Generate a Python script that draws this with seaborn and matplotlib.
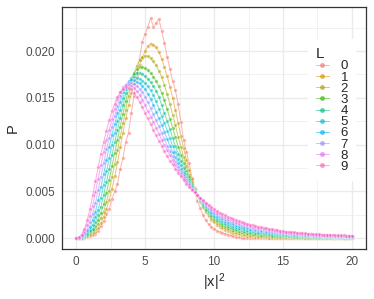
import numpy as np
import pandas as pd
import seaborn as sns
import matplotlib
matplotlib.use("Agg")
import matplotlib.pyplot as plt
from matplotlib.lines import Line2D
from matplotlib.ticker import FormatStrFormatter, MultipleLocator

# ==========================
# DATA (P in units of 1e-4, x = |x|^2 grid, step 0.2)
# ==========================

x_grid = np.round(np.arange(0, 20.001, 0.2), 1)

L0 = [0, 0, 0, 0, 1, 2, 3, 5, 8, 13,
      18, 26, 31, 42, 50, 58, 74, 86, 103, 113,
      134, 152, 172, 192, 210, 218, 226, 235, 226, 230,
      234, 222, 209, 194, 181, 168, 158, 143, 124, 105,
      92, 80, 64, 51, 40, 32, 25, 19, 15, 12,
      10, 8, 7, 6, 5, 4, 3, 2, 1, 1,
      0, 0, 0, 0, 0, 0, 0, 0, 0, 0,
      0, 0, 0, 0, 0, 0, 0, 0, 0, 0,
      0, 0, 0, 0, 0, 0, 0, 0, 0, 0,
      0, 0, 0, 0, 0, 0, 0, 0, 0, 0,
      0]
L1 = [0, 0, 0.5, 1, 2, 3, 5, 7, 11, 16,
      23, 31, 41, 53, 66, 81, 97, 113, 128, 142,
      155, 166, 176, 185, 193, 200, 205, 208, 207, 204,
      199, 192, 183, 173, 162, 150, 137, 123, 109, 96,
      84, 73, 63, 54, 46, 39, 33, 28, 23.5, 20,
      17, 14.5, 12.3, 10.5, 9, 7.7, 6.6, 5.6, 4.8, 4.1,
      3.5, 3.0, 2.6, 2.2, 1.9, 1.6, 1.4, 1.2, 1.0, 0.9,
      0.8, 0.7, 0.6, 0.5, 0.45, 0.4, 0.35, 0.3, 0.3, 0.25,
      0.2, 0.2, 0.2, 0.15, 0.15, 0.1, 0.1, 0.1, 0.1, 0.1,
      0.1, 0.1, 0.1, 0.1, 0.1, 0.1, 0.1, 0.1, 0.1, 0.1,
      0.1]
L2 = [0, 0, 0.3, 1.1, 2.7, 4.8, 7.2, 9.6, 15.5, 22,
      28.4, 38.8, 50.7, 65.2, 79.7, 94.2, 108.6, 122.9, 137.1, 152.2,
      165.2, 176, 184.3, 190.2, 193.8, 195, 194.4, 192.4, 189.3, 184.8,
      179.1, 172, 163.8, 154.2, 143.2, 131.9, 120.6, 108.5, 97, 87.2,
      77.4, 68.1, 60.6, 53, 46, 39.5, 33.9, 29.3, 25, 21.6,
      18.8, 16.3, 14.2, 12.4, 10.9, 9.6, 8.5, 7.5, 6.6, 5.9,
      5.3, 4.7, 4.2, 3.8, 3.4, 3.1, 2.8, 2.5, 2.3, 2.1,
      2.0, 1.8, 1.7, 1.5, 1.4, 1.3, 1.2, 1.1, 1.1, 1.0,
      0.9, 0.9, 0.9, 0.8, 0.8, 0.7, 0.7, 0.6, 0.6, 0.6,
      0.6, 0.5, 0.5, 0.5, 0.5, 0.5, 0.5, 0.5, 0.4, 0.4,
      0.4]
L3 = [0, 0.1, 0.45, 1.5, 3.7, 6.2, 8.6, 13.1, 19.8, 26.6,
      36.1, 48.2, 62.3, 76.8, 91.3, 105.5, 119.3, 133.1, 147.1, 159.5,
      169.3, 176.4, 181, 182.9, 182.7, 181.6, 179.5, 176.6, 172.7, 167.9,
      162.2, 155.6, 147.5, 137.7, 127.9, 117.9, 107.7, 97.9, 89.3, 80.7,
      72.1, 65.1, 58.5, 52.0, 46, 40, 34.9, 30.5, 26.5, 23.3,
      20.5, 18.1, 16.1, 14.4, 12.9, 11.5, 10.5, 9.3, 8.5, 7.7,
      7, 6.4, 5.8, 5.3, 4.9, 4.5, 4.2, 3.9, 3.6, 3.3,
      3.1, 2.9, 2.7, 2.5, 2.3, 2.2, 2.1, 2, 1.9, 1.8,
      1.7, 1.6, 1.5, 1.4, 1.4, 1.3, 1.2, 1.2, 1.1, 1.1,
      1.1, 1.0, 1.0, 0.9, 0.9, 0.9, 0.9, 0.8, 0.8, 0.8,
      0.8]
L4 = [0, 0.1, 0.6, 2.1, 4.8, 7.5, 10.4, 17.6, 24.9, 33.8,
      46.3, 60, 74.3, 88.6, 102.6, 115.7, 128.9, 142.1, 154.7, 164.4,
      171.4, 175.6, 177, 176.6, 175.4, 173.3, 170.5, 166.8, 162.4, 157.1,
      151, 142.6, 133.9, 125.2, 116.3, 107, 98.1, 90.5, 82.9, 75.3,
      68.3, 62.6, 56.9, 51.1, 46, 40.5, 35.8, 31.8, 28, 24.9,
      22.3, 19.9, 18, 16.3, 14.8, 13.4, 12.4, 11.2, 10.3, 9.5,
      8.8, 8.1, 7.4, 6.9, 6.4, 6, 5.6, 5.2, 4.8, 4.5,
      4.3, 4, 3.8, 3.5, 3.3, 3.1, 3, 2.8, 2.7, 2.5,
      2.4, 2.3, 2.2, 2.0, 2.0, 1.9, 1.8, 1.7, 1.6, 1.6,
      1.5, 1.5, 1.4, 1.4, 1.3, 1.3, 1.2, 1.2, 1.2, 1.1,
      1.1]
L5 = [0, 0.1, 0.9, 3.0, 5.9, 8.8, 14.7, 22.5, 30.6, 43.5,
      57.1, 71.4, 85.7, 100, 112.5, 125, 137.5, 149.8, 159.5, 166.4,
      170.6, 172, 171.6, 170.4, 168.5, 165.8, 162.2, 157.9, 152.8, 146.2,
      138.5, 130.8, 123.1, 115, 106.7, 98.6, 91.7, 84.8, 77.9, 71,
      65.7, 60.6, 55.6, 50.5, 46, 41, 36.8, 33, 29.5, 26.5,
      24, 21.8, 19.9, 18.3, 16.8, 15.4, 14.3, 13.1, 12.2, 11.3,
      10.5, 9.8, 9.1, 8.5, 8, 7.4, 7, 6.5, 6.1, 5.8,
      5.4, 5.1, 4.8, 4.5, 4.2, 4, 3.8, 3.6, 3.5, 3.3,
      3.1, 3, 2.9, 2.7, 2.6, 2.5, 2.4, 2.3, 2.2, 2.1,
      2, 1.9, 1.9, 1.8, 1.7, 1.7, 1.6, 1.6, 1.5, 1.5,
      1.4]
L6 = [0, 0.2, 1.3, 4.2, 7.4, 11.7, 20, 28.3, 40.7, 54.4,
      68.8, 83.3, 97.8, 110.1, 122.1, 134, 146.1, 156.1, 163.3, 167.6,
      169, 168.6, 167.4, 165.4, 162.6, 159, 154.6, 149.3, 142.2, 135.2,
      128.1, 121.1, 113.6, 106, 98.8, 92.5, 86.3, 80, 73.8, 68.2,
      63.6, 59, 54.4, 49.8, 46, 41.5, 37.7, 34.3, 31, 28.1,
      25.8, 23.6, 21.8, 20.2, 18.7, 17.3, 16.2, 14.9, 14, 13.1,
      12.3, 11.4, 10.7, 10, 9.5, 8.9, 8.3, 7.8, 7.4, 7,
      6.6, 6.2, 5.9, 5.5, 5.2, 4.9, 4.6, 4.4, 4.2, 4.0,
      3.8, 3.6, 3.5, 3.3, 3.2, 3.0, 2.9, 2.8, 2.7, 2.5,
      2.5, 2.4, 2.3, 2.2, 2.1, 2.0, 2.0, 1.9, 1.9, 1.8,
      1.7]
L7 = [0, 0.3, 2.2, 5.7, 9.3, 17.1, 26, 37.6, 51.4, 65.9,
      80.4, 94.9, 107.4, 118.9, 130.3, 141.7, 151.8, 159.2, 163.9, 165.9,
      165.8, 164.6, 162.6, 159.7, 156, 151.3, 145.2, 138.8, 132.4, 126.1,
      119.6, 112.6, 105.6, 98.9, 93.2, 87.5, 81.9, 76.2, 70.6, 66.2,
      62, 57.7, 53.5, 49.4, 46, 42, 38.6, 35.5, 32.5, 29.8,
      27.5, 25.4, 23.7, 22.1, 20.6, 19.2, 18.2, 16.8, 15.8, 14.9,
      14, 13.1, 12.3, 11.6, 11, 10.3, 9.7, 9.2, 8.7, 8.2,
      7.7, 7.3, 6.9, 6.5, 6.1, 5.8, 5.5, 5.3, 5, 4.8,
      4.6, 4.3, 4.2, 3.9, 3.8, 3.6, 3.5, 3.3, 3.2, 3.0,
      2.9, 2.8, 2.7, 2.6, 2.5, 2.4, 2.4, 2.3, 2.2, 2.1,
      2.1]
L8 = [0, 0.5, 3.6, 7.6, 13.9, 23.7, 35, 49.3, 63.6, 77.9,
      92.1, 105, 116.1, 127.2, 138.3, 148.5, 156.1, 161.1, 163.7, 163.9,
      162.8, 160.7, 157.5, 153.3, 147.9, 142, 136, 130.1, 124.2, 118.1,
      111.7, 105.4, 99.2, 93.9, 88.7, 83.4, 78.2, 72.9, 68.3, 64.4,
      60.6, 56.7, 52.9, 49, 46, 42.5, 39.6, 36.8, 34, 31.4,
      29.3, 27.2, 25.6, 24.1, 22.6, 21.1, 20.1, 18.6, 17.7, 16.7,
      15.8, 14.8, 13.9, 13.1, 12.5, 11.8, 11.1, 10.5, 9.9, 9.4,
      8.9, 8.4, 8, 7.5, 7.1, 6.7, 6.3, 6.1, 5.8, 5.5,
      5.3, 5, 4.8, 4.6, 4.4, 4.2, 4.0, 3.9, 3.7, 3.5,
      3.4, 3.2, 3.1, 3.1, 2.9, 2.8, 2.7, 2.6, 2.5, 2.5,
      2.4]
L9 = [0, 1, 4, 10, 19, 31, 46, 61, 76, 90,
      103, 115, 126, 136, 144, 151, 156, 160, 162, 161,
      159, 155, 151, 146, 140, 134, 128, 122, 116, 110,
      104, 99, 93, 88, 83, 79, 74, 70, 66, 62,
      58, 55, 52, 49, 46, 43, 40.5, 38, 35.5, 33,
      31, 29, 27.5, 26, 24.5, 23, 22, 20.5, 19.5, 18.5,
      17.5, 16.5, 15.5, 14.7, 14, 13.2, 12.5, 11.8, 11.2, 10.6,
      10, 9.5, 9, 8.5, 8, 7.6, 7.2, 6.9, 6.6, 6.3,
      6.0, 5.7, 5.5, 5.2, 5.0, 4.8, 4.6, 4.4, 4.2, 4.0,
      3.9, 3.7, 3.6, 3.5, 3.3, 3.2, 3.1, 3.0, 2.9, 2.8,
      2.7]

series = [L0, L1, L2, L3, L4, L5, L6, L7, L8, L9]
labels = [str(i) for i in range(10)]

# ggplot hue palette
pal = ["#F8766D", "#D89000", "#A3A500", "#39B600", "#00BF7D",
       "#00BFC4", "#00B0F6", "#9590FF", "#E76BF3", "#FF62BC"]

rows = []
for lab, vals in zip(labels, series):
    for xv, pv in zip(x_grid, vals):
        rows.append({"x": xv, "P": pv * 1e-4, "L": lab})
df = pd.DataFrame(rows)

# ==========================
# PLOT
# ==========================

sns.set_style("white")
plt.rcParams["font.family"] = ["Liberation Sans", "DejaVu Sans"]

fig = plt.figure(figsize=(3.74, 2.99), dpi=100)
ax = fig.add_axes([0.1666, 0.1662, 0.8114, 0.8094])

sns.lineplot(data=df, x="x", y="P", hue="L", hue_order=labels, palette=pal,
             marker="o", markersize=2.6, markeredgewidth=0.5, linewidth=0.7,
             alpha=0.55, estimator=None, sort=False, legend=False, ax=ax)

ax.set_xlim(-1, 21)
ax.set_ylim(-0.00118, 0.02468)

ax.xaxis.set_major_locator(MultipleLocator(5))
ax.xaxis.set_minor_locator(MultipleLocator(2.5))
ax.yaxis.set_major_locator(MultipleLocator(0.005))
ax.yaxis.set_minor_locator(MultipleLocator(0.0025))
ax.yaxis.set_major_formatter(FormatStrFormatter("%.3f"))

ax.grid(which="major", color="#EBEBEB", linewidth=1.0)
ax.grid(which="minor", color="#EBEBEB", linewidth=0.5)
ax.set_axisbelow(True)

for sp in ax.spines.values():
    sp.set_color("#333333")
    sp.set_linewidth(0.9)

ax.tick_params(which="major", direction="out", length=3, width=0.7,
               color="#333333", labelsize=8.5, labelcolor="#4D4D4D", pad=2)
ax.tick_params(which="minor", length=0)

ax.set_xlabel(r"$\mathregular{|x|^2}$", fontsize=10.5, labelpad=2)
ax.set_ylabel("P", fontsize=10.5, labelpad=4)

handles = [Line2D([], [], color=c, marker="o", markersize=2.6,
                  linewidth=0.7, alpha=0.55) for c in pal]
leg = ax.legend(handles, labels, title="L", loc="upper right",
                bbox_to_anchor=(0.99, 0.895), frameon=True, facecolor="white",
                edgecolor="none", framealpha=1, fancybox=False,
                fontsize=9.5, title_fontsize=11, handlelength=1.0,
                handletextpad=0.9, labelspacing=-0.08, borderpad=0.6)
leg._legend_box.align = "left"

fig.savefig("out.png", dpi=100)
